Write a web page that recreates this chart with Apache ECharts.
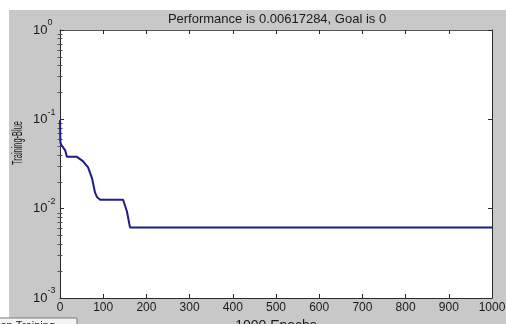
<!DOCTYPE html>
<html>
<head>
<meta charset="utf-8">
<script src="https://cdn.jsdelivr.net/npm/echarts@6/dist/echarts.min.js"></script>
<style>
html,body{margin:0;padding:0;background:#fff;}
#perfChart{width:506px;height:324px;}
</style>
</head>
<body>
<div id="perfChart"></div>
<script>
// epochs where the curve changes, and the performance read at each of them
var epochs = [0, 1, 3, 7, 12, 16, 39, 53, 65, 74, 81, 86, 93, 146, 155, 162, 1000];
var perf = [0.098, 0.055, 0.052, 0.052, 0.045, 0.038, 0.038, 0.034, 0.029, 0.022, 0.0152, 0.0134, 0.0126, 0.0126, 0.0093, 0.00617, 0.00617];
var xTicks = [0, 100, 200, 300, 400, 500, 600, 700, 800, 900, 1000];
var yDecades = [0.001, 0.01, 0.1, 1];
var titleText = 'Performance is 0.00617284, Goal is 0';

// log minor ticks 2..9 in each decade
var yMinor = [];
for (var d = 0; d < yDecades.length - 1; d++) {
	for (var m = 2; m <= 9; m++) {
		yMinor.push(yDecades[d] * m);
	}
}

var lineData = [];
for (var i = 0; i < epochs.length; i++) {
	lineData.push([epochs[i], perf[i]]);
}

var perfChart = echarts.init(document.getElementById('perfChart'));
var axisColor = '#2a2a2a';
var textColor = '#1a1a1a';

var option = {
	animation: false,
	backgroundColor: '#ffffff',
	textStyle: { fontFamily: 'Liberation Sans, Arial, sans-serif' },
	title: {
		text: titleText,
		left: 272,
		top: 8,
		textAlign: 'center',
		textStyle: { color: textColor, fontSize: 13, fontWeight: 'normal' }
	},
	graphic: [
		{ type: 'rect', z: -10, shape: { x: 9, y: 10, width: 497, height: 314 }, style: { fill: '#c8c8c8' } },
		// y axis name, squeezed like the source
		{ type: 'text', z: 5, x: 18, y: 143, rotation: Math.PI / 2, scaleX: 0.53,
			style: { text: 'Training-Blue', fill: textColor, font: '14px Liberation Sans', align: 'center', verticalAlign: 'middle' } },
		{ type: 'rect', z: 10, shape: { x: -2, y: 318, width: 79, height: 14 }, style: { fill: '#f4f4f4', stroke: '#7a7a7a', lineWidth: 1 } },
		{ type: 'text', z: 11, x: 55, y: 320, style: { text: 'Stop Training', fill: textColor, font: '11px Liberation Sans', align: 'right' } }
	],
	grid: { left: 60, right: 14, top: 30, bottom: 26, show: true, backgroundColor: '#ffffff', borderWidth: 0, outerBoundsMode: 'none', containLabel: false },
	xAxis: [
		{
			type: 'value', min: 0, max: 1000, interval: 100, position: 'bottom',
			name: '1000 Epochs', nameLocation: 'middle', nameGap: 20,
			nameTextStyle: { color: textColor, fontSize: 14, verticalAlign: 'top' },
			axisLine: { show: true, onZero: false, lineStyle: { color: axisColor, width: 1 } },
			axisTick: { show: true, inside: true, length: 4, lineStyle: { color: axisColor } },
			axisLabel: {
				color: textColor, fontSize: 12, margin: 4,
				customValues: xTicks,
				formatter: function (v) { return String(v); }
			},
			splitLine: { show: false }
		},
		{
			type: 'value', min: 0, max: 1000, interval: 100, position: 'top',
			axisLine: { show: true, onZero: false, lineStyle: { color: '#555', width: 1 } },
			axisTick: { show: true, inside: true, length: 4, lineStyle: { color: axisColor } },
			axisLabel: { show: false },
			splitLine: { show: false }
		}
	],
	yAxis: [
		{
			type: 'log', logBase: 10, min: 0.001, max: 1, position: 'left',
			axisLine: { show: true, onZero: false, lineStyle: { color: axisColor, width: 1 } },
			axisTick: { show: true, inside: true, length: 4, customValues: yDecades, lineStyle: { color: axisColor } },
			axisLabel: {
				customValues: yDecades,
				align: 'left', margin: 27, padding: [0, 0, 5, 0],
				formatter: function (v) {
					return '{b|10}{s|' + Math.round(Math.log10(v)) + '}';
				},
				rich: {
					b: { fontSize: 13, color: textColor, padding: [5, 0, 0, 0] },
					s: { fontSize: 9, color: textColor, verticalAlign: 'top' }
				}
			},
			splitLine: { show: false }
		},
		{
			type: 'log', logBase: 10, min: 0.001, max: 1, position: 'left', offset: 0,
			axisLine: { show: false },
			axisTick: { show: true, inside: true, length: 2.5, customValues: yMinor, lineStyle: { color: '#555' } },
			axisLabel: { show: false },
			splitLine: { show: false }
		},
		{
			type: 'log', logBase: 10, min: 0.001, max: 1, position: 'right', offset: 0,
			axisLine: { show: true, onZero: false, lineStyle: { color: axisColor, width: 1 } },
			axisTick: { show: true, inside: true, length: 4, customValues: yDecades, lineStyle: { color: axisColor } },
			axisLabel: { show: false },
			splitLine: { show: false }
		},
		{
			type: 'log', logBase: 10, min: 0.001, max: 1, position: 'right', offset: 0,
			axisLine: { show: false },
			axisTick: { show: true, inside: true, length: 2.5, customValues: yMinor, lineStyle: { color: '#555' } },
			axisLabel: { show: false },
			splitLine: { show: false }
		}
	],
	series: [
		{
			name: 'Training',
			type: 'line',
			xAxisIndex: 0,
			yAxisIndex: 0,
			showSymbol: false,
			symbol: 'none',
			lineStyle: { color: '#1c1c8c', width: 2 },
			data: lineData
		}
	]
};
perfChart.setOption(option);
</script>
</body>
</html>
